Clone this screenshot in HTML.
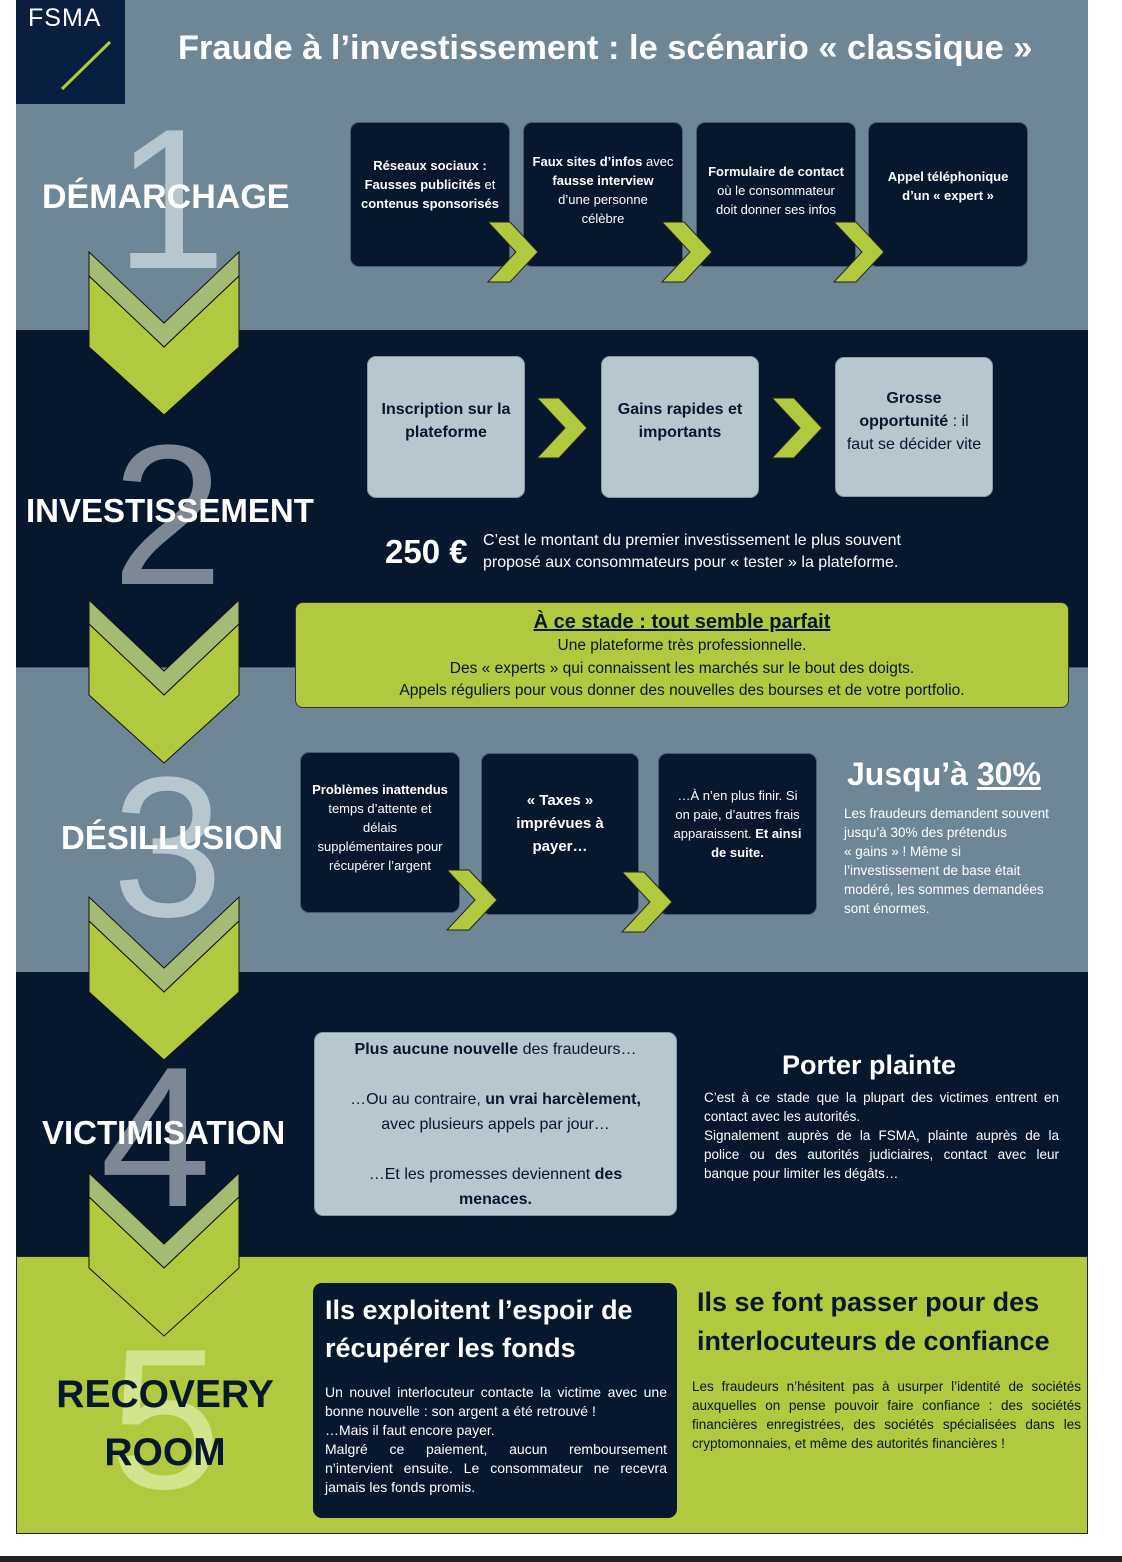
<!DOCTYPE html>
<html><head><meta charset="utf-8"><style>
*{margin:0;padding:0;box-sizing:border-box}
body{width:1122px;height:1562px;position:relative;background:#fff;font-family:"Liberation Sans",sans-serif;overflow:hidden}
.a{position:absolute}
.box{position:absolute;display:flex;align-items:center;justify-content:center;text-align:center;border-radius:9px}
.dk{background:#07172d;color:#fff;border:1px solid #4a5a6a}
.lt{background:#b8c6ce;color:#07172d;border:1px solid #8a9aa5}
.big{position:absolute;font-size:200px;line-height:1;font-weight:normal}
.h{position:absolute;font-weight:bold;color:#fff;text-align:center;white-space:nowrap}
b{font-weight:bold}
</style></head><body>
<div class="a" style="left:16px;top:0;width:1072px;height:330px;background:#6e8696"></div>
<div class="a" style="left:16px;top:330px;width:1072px;height:337px;background:#07172d"></div>
<div class="a" style="left:16px;top:667px;width:1072px;height:305px;background:#6e8696;border-top:1px solid #4a5a6a"></div>
<div class="a" style="left:16px;top:972px;width:1072px;height:284px;background:#07172d"></div>
<div class="a" style="left:16px;top:1256px;width:1072px;height:278px;background:#b1c93e;border:1px solid #222"></div>
<div class="a" style="left:0;top:1556px;width:1122px;height:6px;background:#222"></div>
<div class="a" style="left:16px;top:0;width:109px;height:104px;background:#0a1f3f"></div>
<div class="a" style="left:28px;top:4px;color:#fff;font-size:25px;letter-spacing:1px">FSMA</div>
<svg class="a" style="left:0;top:0" width="1122" height="1562">
<line x1="62" y1="89" x2="110" y2="42" stroke="#b1c93e" stroke-width="3"/>
</svg>
<div class="h" style="left:178px;top:29px;font-size:34.4px">Fraude à l’investissement : le scénario « classique »</div>

<div class="big" style="left:115px;top:100px;color:#b8c6cd">1</div>
<div class="big" style="left:112px;top:416px;color:#7e8794">2</div>
<div class="big" style="left:112px;top:748px;color:#b8c6cd">3</div>
<div class="big" style="left:100px;top:1038px;color:#7e8794">4</div>
<div class="big" style="left:110px;top:1320px;color:#d4e48c">5</div>

<svg class="a" style="left:0;top:0" width="1122" height="1562">
<defs><g id="ch">
<polygon points="0,0 75,71 150,0 150,24 75,95 0,24" fill="#a3bb72" stroke="#111" stroke-width="1"/>
<polygon points="0,24 75,95 150,24 150,95 75,163 0,95" fill="#b1c93e" stroke="#111" stroke-width="1"/>
</g>
<polygon id="ar" points="0,0 22,0 50,30 22,60 0,60 28,30" fill="#b1c93e" stroke="#222" stroke-width="1"/>
</defs>
<use href="#ch" x="89" y="252"/>
<use href="#ch" x="89" y="600"/>
<use href="#ch" x="89" y="897"/>
<use href="#ch" x="89" y="1173"/>
</svg>

<div class="h" style="left:42px;top:178px;font-size:34px">DÉMARCHAGE</div>
<div class="h" style="left:26px;top:492px;font-size:33px">INVESTISSEMENT</div>
<div class="h" style="left:61px;top:819px;font-size:33px">DÉSILLUSION</div>
<div class="h" style="left:42px;top:1114px;font-size:33px">VICTIMISATION</div>
<div class="h" style="left:40px;top:1366px;width:250px;font-size:39px;color:#07172d;line-height:58px">RECOVERY<br>ROOM</div>

<div class="box dk" style="left:350px;top:122px;width:160px;height:145px;font-size:13px;line-height:19px;padding-bottom:20px"><div><b>Réseaux sociaux :<br>Fausses publicités</b> et<br><b>contenus sponsorisés</b></div></div>
<div class="box dk" style="left:523px;top:122px;width:160px;height:145px;font-size:13px;line-height:19px;padding-bottom:10px"><div><b>Faux sites d’infos</b> avec<br><b>fausse interview</b><br>d’une personne<br>célèbre</div></div>
<div class="box dk" style="left:696px;top:122px;width:160px;height:145px;font-size:13px;line-height:19px;padding-bottom:8px"><div><b>Formulaire de contact</b><br>où le consommateur<br>doit donner ses infos</div></div>
<div class="box dk" style="left:868px;top:122px;width:160px;height:145px;font-size:13px;line-height:19px;padding-bottom:18px"><div><b>Appel téléphonique<br>d’un « expert »</b></div></div>

<div class="box lt" style="left:367px;top:356px;width:158px;height:142px;font-size:16px;line-height:23px;padding-bottom:12px"><div><b>Inscription sur la<br>plateforme</b></div></div>
<div class="box lt" style="left:601px;top:356px;width:158px;height:142px;font-size:16px;line-height:23px;padding-bottom:12px"><div><b>Gains rapides et<br>importants</b></div></div>
<div class="box lt" style="left:835px;top:357px;width:158px;height:140px;font-size:16px;line-height:23px;padding-bottom:12px"><div><b>Grosse<br>opportunité</b> : il<br>faut se décider vite</div></div>

<div class="box dk" style="left:300px;top:752px;width:160px;height:161px;font-size:13px;line-height:19px;padding-bottom:10px"><div><b>Problèmes inattendus</b><br>temps d’attente et<br>délais<br>supplémentaires pour<br>récupérer l’argent</div></div>
<div class="box dk" style="left:481px;top:753px;width:158px;height:162px;font-size:15px;line-height:23px;padding-bottom:22px"><div><b>« Taxes »<br>imprévues à<br>payer…</b></div></div>
<div class="box dk" style="left:658px;top:753px;width:159px;height:162px;font-size:13px;line-height:19px;padding-bottom:20px"><div>…À n’en plus finir. Si<br>on paie, d’autres frais<br>apparaissent. <b>Et ainsi<br>de suite.</b></div></div>

<svg class="a" style="left:0;top:0" width="1122" height="1562">
<use href="#ar" x="488" y="222"/><use href="#ar" x="662" y="222"/><use href="#ar" x="834" y="222"/>
<use href="#ar" x="537" y="398"/><use href="#ar" x="772" y="398"/>
<use href="#ar" x="447" y="870"/><use href="#ar" x="622" y="872"/>
</svg>

<div class="a" style="left:385px;top:533px;color:#fff;font-weight:bold;font-size:33px">250 €</div>
<div class="a" style="left:483px;top:530px;color:#fff;font-size:16px;line-height:22px">C’est le montant du premier investissement le plus souvent<br>proposé aux consommateurs pour « tester » la plateforme.</div>

<div class="a" style="left:295px;top:602px;width:774px;height:106px;background:#b1c93e;border:1px solid #333;border-radius:8px;text-align:center;color:#07172d;font-size:15.5px;line-height:22.5px;padding-top:6px">
<div style="font-weight:bold;font-size:20px;text-decoration:underline;line-height:26px">À ce stade : tout semble parfait</div>
Une plateforme très professionnelle.<br>Des « experts » qui connaissent les marchés sur le bout des doigts.<br>Appels réguliers pour vous donner des nouvelles des bourses et de votre portfolio.</div>

<div class="a" style="left:847px;top:756px;color:#fff;font-weight:bold;font-size:32px">Jusqu’à <span style="text-decoration:underline">30%</span></div>
<div class="a" style="left:844px;top:804px;color:#fff;font-size:13.5px;line-height:19px">Les fraudeurs demandent souvent<br>jusqu’à 30% des prétendus<br>« gains » ! Même si<br>l’investissement de base était<br>modéré, les sommes demandées<br>sont énormes.</div>

<div class="box lt" style="left:314px;top:1032px;width:363px;height:184px;font-size:16px;line-height:25px;background:#b8c6ce"><div><b>Plus aucune nouvelle</b> des fraudeurs…<br><br>…Ou au contraire, <b>un vrai harcèlement,</b><br>avec plusieurs appels par jour…<br><br>…Et les promesses deviennent <b>des<br>menaces.</b></div></div>

<div class="a" style="left:782px;top:1050px;color:#fff;font-weight:bold;font-size:27px">Porter plainte</div>
<div class="a" style="left:704px;top:1088px;width:355px;color:#fff;font-size:13.5px;line-height:19px;text-align:justify">C’est à ce stade que la plupart des victimes entrent en contact avec les autorités.<br>Signalement auprès de la FSMA, plainte auprès de la police ou des autorités judiciaires, contact avec leur banque pour limiter les dégâts…</div>

<div class="a" style="left:313px;top:1283px;width:364px;height:235px;background:#07172d;border-radius:9px;color:#fff;padding:8px 10px 0 12px">
<div style="font-weight:bold;font-size:27px;line-height:38px">Ils exploitent l’espoir de récupérer les fonds</div>
<div style="font-size:14px;line-height:19px;text-align:justify;margin-top:16px">Un nouvel interlocuteur contacte la victime avec une bonne nouvelle : son argent a été retrouvé !<br>…Mais il faut encore payer.<br>Malgré ce paiement, aucun remboursement n’intervient ensuite. Le consommateur ne recevra jamais les fonds promis.</div></div>

<div class="a" style="left:697px;top:1283px;color:#07172d;font-weight:bold;font-size:27px;line-height:39px">Ils se font passer pour des<br>interlocuteurs de confiance</div>
<div class="a" style="left:692px;top:1377px;width:389px;color:#07172d;font-size:13.5px;line-height:19px;text-align:justify">Les fraudeurs n’hésitent pas à usurper l’identité de sociétés auxquelles on pense pouvoir faire confiance : des sociétés financières enregistrées, des sociétés spécialisées dans les cryptomonnaies, et même des autorités financières !</div>
</body></html>
